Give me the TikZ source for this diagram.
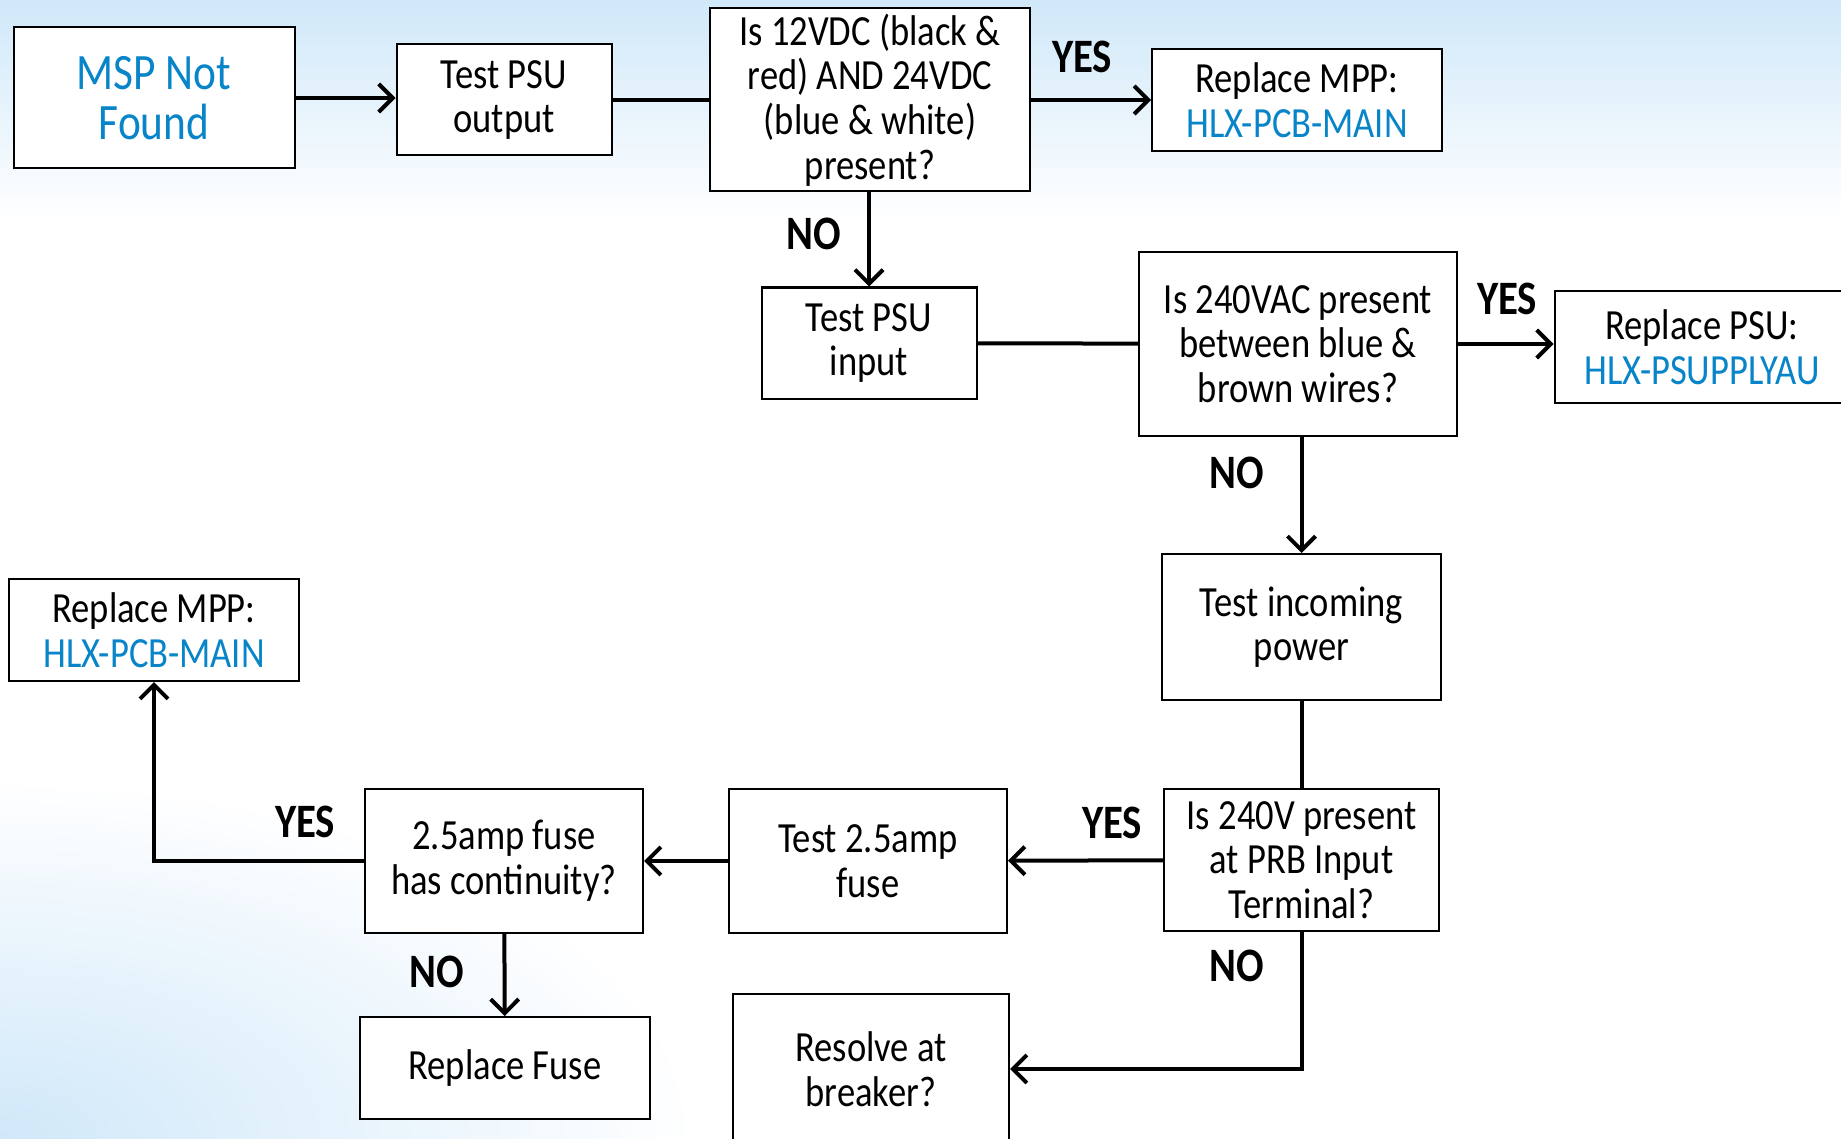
\documentclass[tikz,border=0pt]{standalone}
\usepackage{fontspec}
\setmainfont{Carlito}[FakeStretch=0.85]
\usetikzlibrary{arrows.meta}
\definecolor{partblue}{RGB}{8,132,200}
\definecolor{skyblue}{RGB}{208,232,249}

\begin{document}
\begin{tikzpicture}[x=0.5pt, y=-0.5pt, >={Straight Barb[length=7pt,width=14pt]},
  box/.style={draw, fill=white, line width=1pt, align=center, inner sep=0pt,
    font=\fontsize{21.5}{22.3}\selectfont},
  link/.style={line width=2pt},
  lbl/.style={font=\bfseries\fontsize{24}{24}\selectfont}]
  % 背景
  \useasboundingbox (0,0) rectangle (1841,1139);
  \fill[white] (0,0) rectangle (1841,1139);
  \shade[top color=skyblue, bottom color=white] (0,0) rectangle (1841,220);
  \shade[inner color=skyblue, outer color=white] (0,1139) ellipse (700 and 360);

  % 第一行：PSU 输出
  \node[box, minimum width=140.5pt, minimum height=70.5pt,
    font=\fontsize{25.5}{25}\selectfont, text=partblue] (msp) at (154,98) {MSP Not\\Found};
  \node[box, minimum width=107.5pt, minimum height=55.5pt] (psuout) at (504,100) {Test PSU\\output};
  \node[box, minimum width=160pt, minimum height=91.5pt] (dcq) at (870,100)
    {Is 12VDC (black \&\\red) AND 24VDC\\(blue \& white)\\present?};
  \node[box, minimum width=145pt, minimum height=51pt] (mppa) at (1297,100)
    {Replace MPP:\\\textcolor{partblue}{HLX-PCB-MAIN}};

  % 第二行：PSU 输入
  \node[box, minimum width=107.5pt, minimum height=55.5pt] (psuin) at (869,343) {Test PSU\\input};
  \node[box, minimum width=159pt, minimum height=92pt] (acq) at (1298,344)
    {Is 240VAC present\\between blue \&\\brown wires?};
  \node[box, minimum width=147.5pt, minimum height=56pt] (psurep) at (1702,347)
    {Replace PSU:\\\textcolor{partblue}{HLX-PSUPPLYAU}};

  % 右列与底行
  \node[box, minimum width=139.5pt, minimum height=73pt] (power) at (1301.5,627) {Test incoming\\power};
  \node[box, minimum width=137.5pt, minimum height=71pt] (vq) at (1301.5,860)
    {Is 240V present\\at PRB Input\\Terminal?};
  \node[box, minimum width=139pt, minimum height=72pt] (fusetest) at (868,861) {Test 2.5amp\\fuse};
  \node[box, minimum width=139pt, minimum height=72pt] (fuseq) at (504,861)
    {2.5amp fuse\\has continuity?};
  \node[box, minimum width=145pt, minimum height=51pt] (mppb) at (154,630)
    {Replace MPP:\\\textcolor{partblue}{HLX-PCB-MAIN}};
  \node[box, minimum width=145pt, minimum height=51pt] (fuserep) at (505,1068) {Replace Fuse};
  \node[box, minimum width=138pt, minimum height=75pt] (breaker) at (871,1069) {Resolve at\\breaker?};

  % 连线
  \draw[link, ->] (msp.east) -- (msp.east -| psuout.west);
  \draw[link] (psuout) -- (dcq);
  \draw[link, ->] (dcq) -- (mppa);
  \draw[link, ->] (dcq.south -| psuin) -- (psuin.north);
  \draw[link] (psuin) -- (acq);
  \draw[link, ->] (acq) -- (acq -| psurep.west);
  \draw[link, ->] (acq.south -| power) -- (power.north);
  \draw[link] (power) -- (vq);
  \draw[link, ->] (vq) -- (fusetest);
  \draw[link, ->] (fusetest) -- (fuseq);
  \draw[link, ->] (fuseq.west) -| (mppb.south);
  \draw[link, ->] (fuseq) -- (fuserep);
  \draw[link, ->] (vq.south) |- (breaker.east);

  % YES / NO
  \node[lbl] (y1) at (1082,57) {YES};
  \node[lbl] (n1) at (814,234) {NO};
  \node[lbl] (y2) at (1507,299) {YES};
  \node[lbl] (n2) at (1237,473) {NO};
  \node[lbl] (y3) at (1112,823) {YES};
  \node[lbl] (y4) at (305,822) {YES};
  \node[lbl] (n3) at (437,972) {NO};
  \node[lbl] (n4) at (1237,966) {NO};
\end{tikzpicture}
\end{document}
